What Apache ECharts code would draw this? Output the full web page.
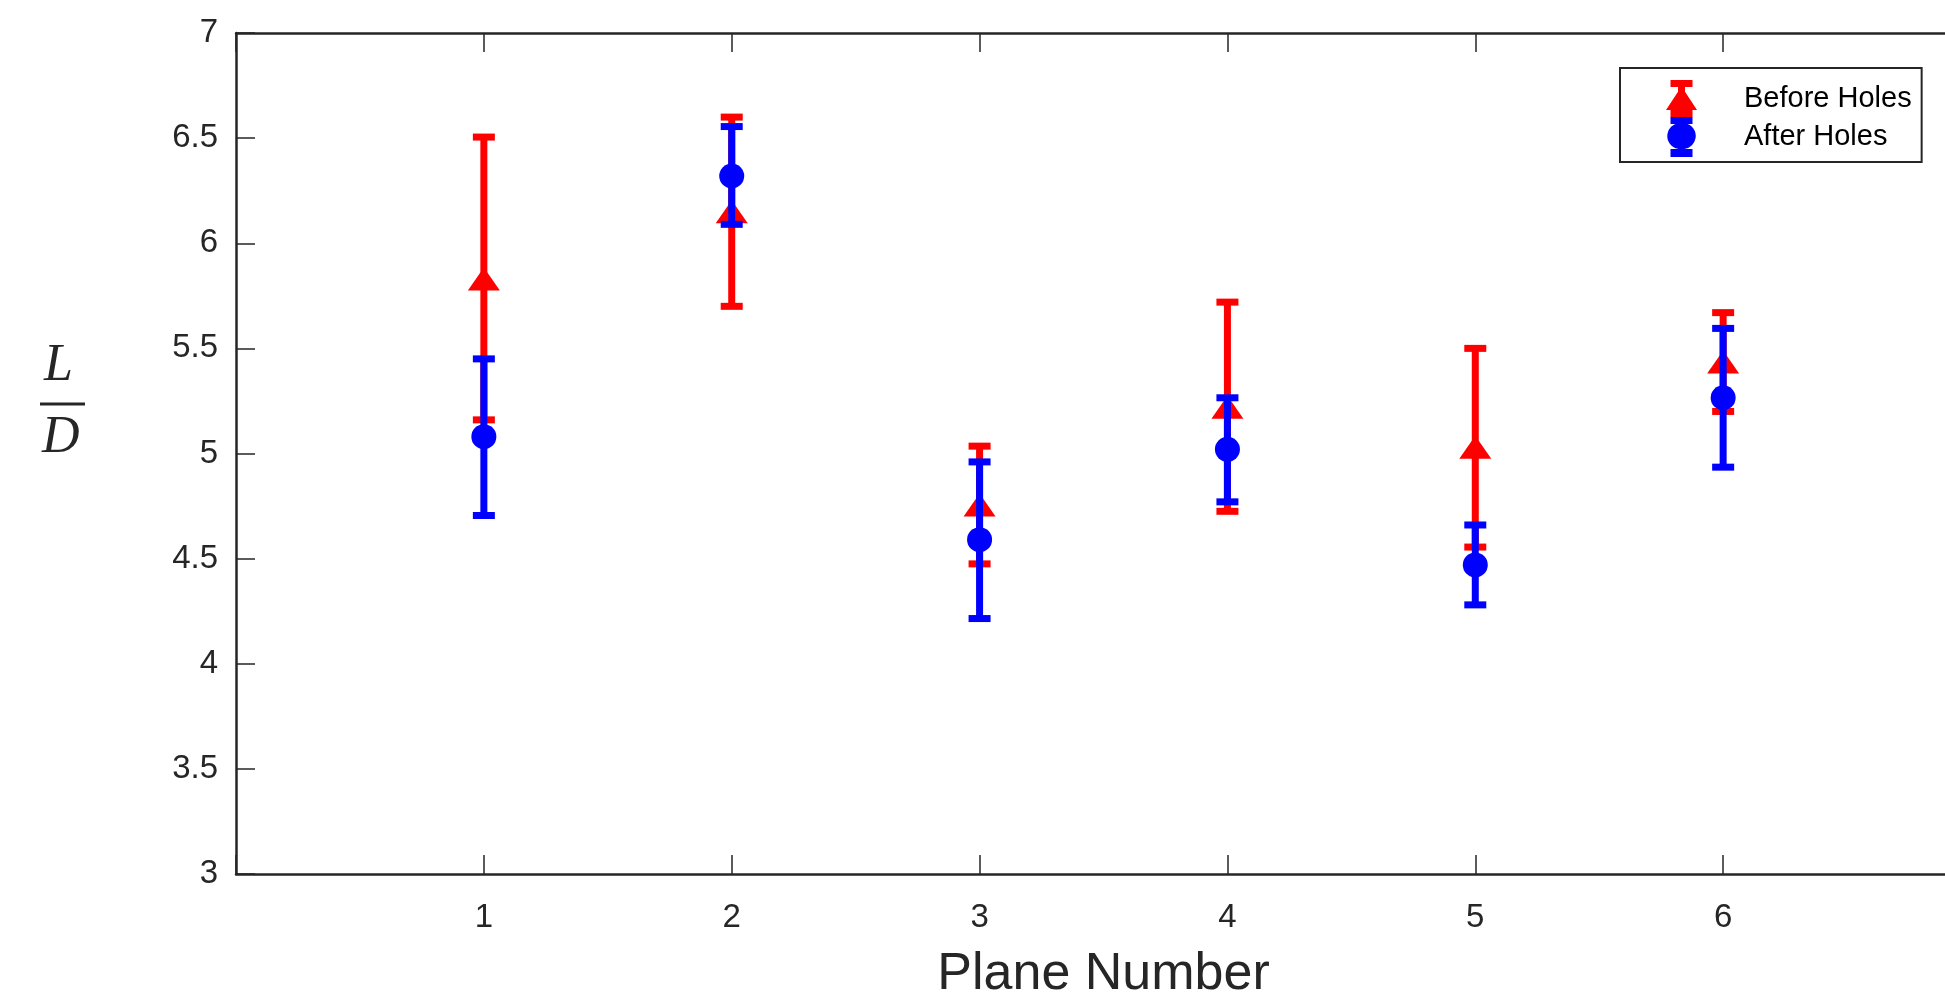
<!DOCTYPE html>
<html>
<head>
<meta charset="utf-8">
<script src="https://cdn.jsdelivr.net/npm/echarts@6/dist/echarts.min.js"></script>
<style>
  html, body { margin: 0; padding: 0; background: #fff; }
  #chart { width: 1945px; height: 994px; }
</style>
</head>
<body>
<div id="chart"></div>
<script>
// plane numbers
let planes = [1, 2, 3, 4, 5, 6]
// before holes: mean, lower and upper end of the error bar
let beforeMean = [5.83, 6.15, 4.755, 5.22, 5.03, 5.435]
let beforeLow = [5.16, 5.70, 4.475, 4.725, 4.555, 5.20]
let beforeHigh = [6.505, 6.60, 5.035, 5.72, 5.50, 5.67]
// after holes
let afterMean = [5.08, 6.32, 4.59, 5.02, 4.47, 5.265]
let afterLow = [4.705, 6.09, 4.215, 4.77, 4.28, 4.935]
let afterHigh = [5.45, 6.555, 4.96, 5.265, 4.66, 5.595]
let yTicks = [3, 3.5, 4, 4.5, 5, 5.5, 6, 6.5, 7]

const axisColor = '#262626'
const red = '#ff0000'
const blue = '#0000ff'

// legend glyphs: cap, stem, marker, cap
const triIcon = 'path://M4.5 0H26.5V7H19V11.7L31 30H26.5V37H4.5V30H0L12 11.7V7H4.5Z'
const dotIcon = 'path://M0 0H22V7H14.5V6.2A13 13 0 0 1 14.5 31.8V32H22V40H0V32H7.5V31.8A13 13 0 0 1 7.5 6.2V7H0Z'

function errorBars(color) {
  return function (params, api) {
    let x = api.value(0)
    let top = api.coord([x, api.value(2)])
    let bot = api.coord([x, api.value(1)])
    let half = 11
    let style = { stroke: color, lineWidth: 7 }
    return {
      type: 'group',
      children: [
        { type: 'line', shape: { x1: top[0], y1: top[1], x2: bot[0], y2: bot[1] }, style: style },
        { type: 'line', shape: { x1: top[0] - half, y1: top[1], x2: top[0] + half, y2: top[1] }, style: style },
        { type: 'line', shape: { x1: bot[0] - half, y1: bot[1], x2: bot[0] + half, y2: bot[1] }, style: style }
      ]
    }
  }
}

let chart = echarts.init(document.getElementById('chart'))
chart.setOption({
  animation: false,
  backgroundColor: '#fff',
  // the plot box runs past the right edge of the picture
  grid: { left: 236, top: 33, right: -26, bottom: 120, outerBoundsMode: 'none', containLabel: false },
  legend: {
    left: 1620,
    top: 68,
    orient: 'vertical',
    padding: [12, 10, 5, 46],
    itemGap: 0,
    itemWidth: 31,
    itemHeight: 40,
    symbolKeepAspect: true,
    borderColor: axisColor,
    borderWidth: 2,
    backgroundColor: '#fff',
    textStyle: { fontFamily: 'Liberation Sans', fontSize: 29, color: '#000', padding: [0, 0, 0, 42] },
    data: [
      { name: 'Before Holes', icon: triIcon },
      { name: 'After Holes', icon: dotIcon }
    ]
  },
  xAxis: [
    {
      type: 'value',
      min: 0,
      max: 7,
      interval: 1,
      name: 'Plane Number',
      nameLocation: 'middle',
      nameGap: 75,
      nameTextStyle: { fontFamily: 'Liberation Sans', fontSize: 52, color: axisColor },
      axisLine: { show: true, onZero: false, lineStyle: { color: axisColor, width: 2.5 } },
      axisTick: { show: true, inside: true, length: 19, lineStyle: { color: axisColor, width: 1.5 } },
      axisLabel: {
        margin: 27,
        fontFamily: 'Liberation Sans',
        fontSize: 33,
        color: axisColor,
        formatter: v => (planes.indexOf(v) >= 0 ? String(v) : '')
      },
      splitLine: { show: false }
    },
    {
      type: 'value',
      position: 'top',
      min: 0,
      max: 7,
      interval: 1,
      axisLine: { show: true, onZero: false, lineStyle: { color: axisColor, width: 2.5 } },
      axisTick: { show: true, inside: true, length: 19, lineStyle: { color: axisColor, width: 1.5 } },
      axisLabel: { show: false },
      splitLine: { show: false }
    }
  ],
  yAxis: {
    type: 'value',
    min: yTicks[0],
    max: yTicks[yTicks.length - 1],
    interval: 0.5,
    axisLine: { show: true, lineStyle: { color: axisColor, width: 2.5 } },
    axisTick: { show: true, inside: true, length: 19, lineStyle: { color: axisColor, width: 1.5 } },
    axisLabel: { margin: 18, fontFamily: 'Liberation Sans', fontSize: 33, color: axisColor },
    splitLine: { show: false }
  },
  graphic: [
    {
      type: 'text', left: 44, top: 340,
      style: { text: 'L', font: 'italic 52px "Liberation Serif"', fill: axisColor }
    },
    {
      type: 'line', shape: { x1: 40, y1: 404, x2: 85, y2: 404 },
      style: { stroke: axisColor, lineWidth: 3 }
    },
    {
      type: 'text', left: 42, top: 412,
      style: { text: 'D', font: 'italic 52px "Liberation Serif"', fill: axisColor }
    }
  ],
  series: [
    {
      name: 'Before Holes',
      type: 'custom',
      z: 2,
      itemStyle: { color: red },
      renderItem: errorBars(red),
      data: planes.map((p, i) => [p, beforeLow[i], beforeHigh[i]])
    },
    {
      name: 'Before Holes',
      type: 'scatter',
      z: 3,
      symbol: 'triangle',
      symbolSize: [32, 23],
      itemStyle: { color: red, opacity: 1 },
      data: planes.map((p, i) => [p, beforeMean[i]])
    },
    {
      name: 'After Holes',
      type: 'custom',
      z: 4,
      itemStyle: { color: blue },
      renderItem: errorBars(blue),
      data: planes.map((p, i) => [p, afterLow[i], afterHigh[i]])
    },
    {
      name: 'After Holes',
      type: 'scatter',
      z: 5,
      symbol: 'circle',
      symbolSize: 25,
      itemStyle: { color: blue, opacity: 1 },
      data: planes.map((p, i) => [p, afterMean[i]])
    }
  ]
})
</script>
</body>
</html>
